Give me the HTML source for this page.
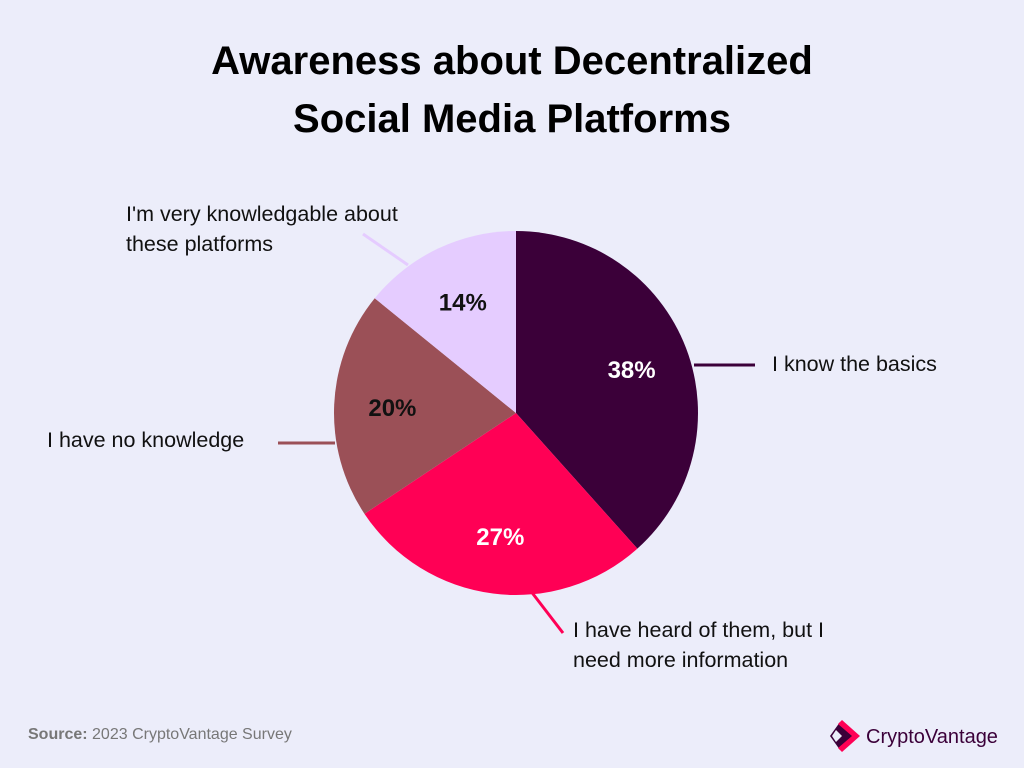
<!DOCTYPE html>
<html><head><meta charset="utf-8"><style>
body{margin:0;background:#ecedfa;font-family:"Liberation Sans",sans-serif}
#c{position:relative;width:1024px;height:768px;background:#ecedfa}
h1{position:absolute;top:32px;left:0;width:1024px;margin:0;text-align:center;font-size:40px;line-height:58px;font-weight:bold;color:#000}
.lbl{position:absolute;font-size:21.5px;line-height:30px;color:#111}
#src{position:absolute;left:28px;top:726px;font-size:16px;color:#777}
#logo{position:absolute;left:826px;top:718px}
</style></head><body>
<div id="c">
<h1>Awareness about Decentralized<br>Social Media Platforms</h1>
<svg id="pie" width="1024" height="768" style="position:absolute;left:0;top:0"></svg>
<div class="lbl" style="left:772px;top:349px">I know the basics</div>
<div class="lbl" style="left:573px;top:615px">I have heard of them, but I<br>need more information</div>
<div class="lbl" style="left:47px;top:425px">I have no knowledge</div>
<div class="lbl" style="left:126px;top:199px">I'm very knowledgable about<br>these platforms</div>
<div id="src"><b>Source:</b> 2023 CryptoVantage Survey</div>
<div id="logo">
<svg width="180" height="36"><polygon points="14,4 30,18 14,32 4,18" fill="#3b0039"/><polygon points="16,2 34,18 16,34 12,30 26,18 12,6" fill="#ff0055"/><polygon points="10,12 16,18 10,24 6,18" fill="#ecedfa"/>
<text x="40" y="25" font-family="Liberation Sans" font-size="20" fill="#3b0039">CryptoVantage</text></svg></div>
</div>
<script>
const categories=["I know the basics","I have heard of them, but I need more information","I have no knowledge","I'm very knowledgable about these platforms"];
const values=[38,27,20,14];
const valueLabels=["38%","27%","20%","14%"];
const colors=["#3b0039","#ff0055","#9b5057","#e5ccff"];
const textColors=["#fff","#fff","#111","#111"];
const cx=516,cy=413,R=182,ns="http://www.w3.org/2000/svg";
const svg=document.getElementById('pie');
const total=values.reduce((a,b)=>a+b,0);
function pt(a,r){return [cx+r*Math.sin(a),cy-r*Math.cos(a)];}
let a0=0;
const leaders=[[694,365,755,365],[530,590,563,633],[335,443,278,443],[408,265,363,234]];
values.forEach((v,i)=>{
 const a1=a0+v/total*2*Math.PI;
 const p0=pt(a0,R),p1=pt(a1,R);
 const path=document.createElementNS(ns,'path');
 path.setAttribute('d',`M${cx},${cy}L${p0[0]},${p0[1]}A${R},${R} 0 ${a1-a0>Math.PI?1:0} 1 ${p1[0]},${p1[1]}Z`);
 path.setAttribute('fill',colors[i]);
 
 
 svg.appendChild(path);
 const l=leaders[i];
 const ln=document.createElementNS(ns,'line');
 ln.setAttribute('x1',l[0]);ln.setAttribute('y1',l[1]);ln.setAttribute('x2',l[2]);ln.setAttribute('y2',l[3]);
 ln.setAttribute('stroke',colors[i]);ln.setAttribute('stroke-width','3');
 
 
 svg.appendChild(ln);
 const m=pt((a0+a1)/2,R*0.68);
 const t=document.createElementNS(ns,'text');
 t.setAttribute('x',m[0]);t.setAttribute('y',m[1]+9);
 t.setAttribute('text-anchor','middle');t.setAttribute('font-size','24');t.setAttribute('font-weight','bold');
 t.setAttribute('font-family','Liberation Sans');t.setAttribute('fill',textColors[i]);
 t.textContent=valueLabels[i];
 
 
 svg.appendChild(t);
 a0=a1;
});
</script>
</body></html>
